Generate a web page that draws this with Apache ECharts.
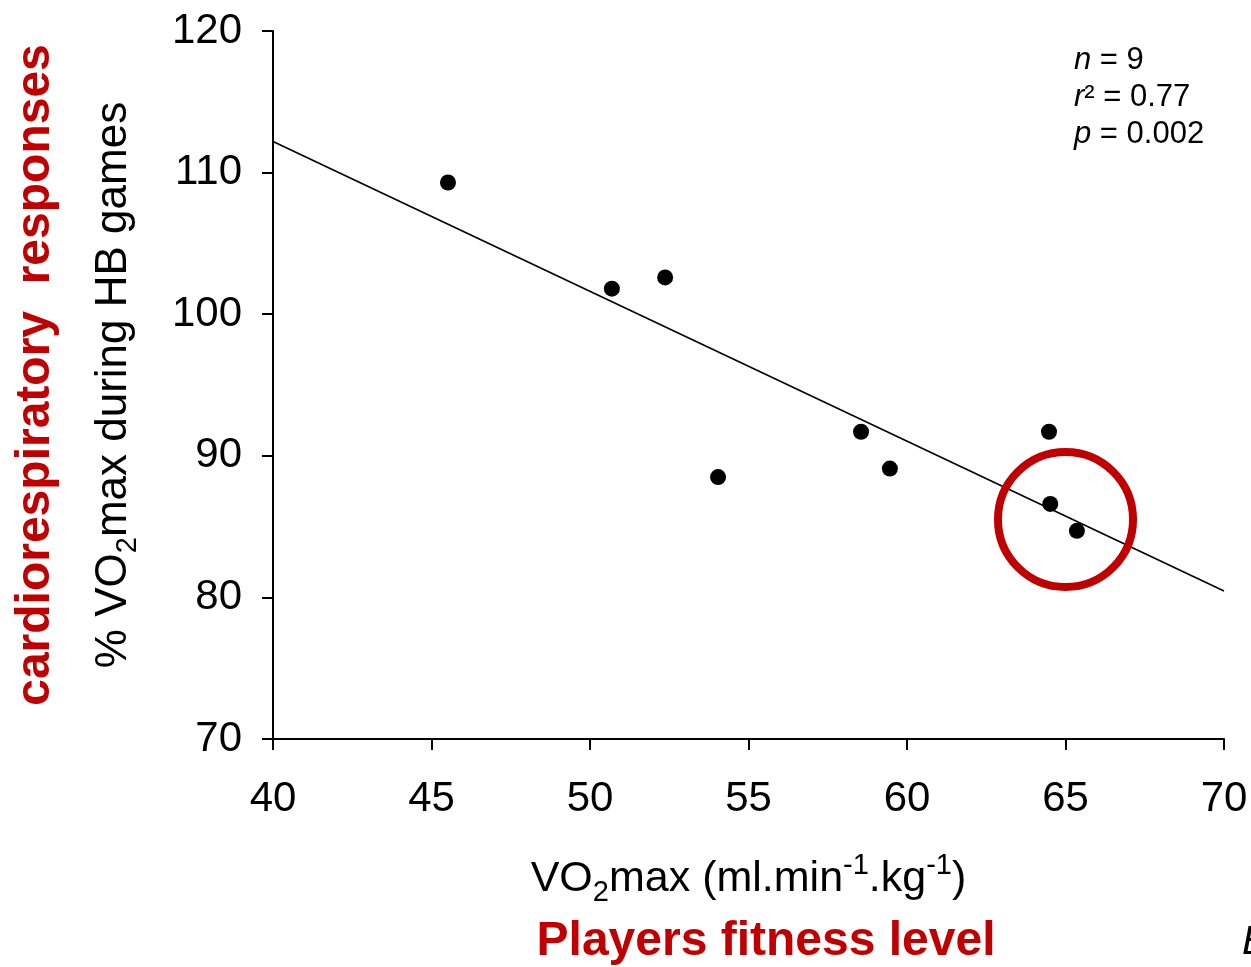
<!DOCTYPE html>
<html>
<head>
<meta charset="utf-8">
<script src="https://cdn.jsdelivr.net/npm/echarts@6/dist/echarts.min.js"></script>
<style>
html,body{margin:0;padding:0;background:#fff;}
#chart{width:1251px;height:967px;}
</style>
</head>
<body>
<div id="chart"></div>
<script>
// Data
var vo2max = [45.52, 50.69, 52.37, 54.04, 58.55, 59.46, 64.48, 64.52, 65.36];
var pctVo2maxHB = [109.3, 101.8, 102.6, 88.5, 91.7, 89.1, 91.7, 86.6, 84.7];
var regressionX = [40, 70];
var regressionY = [112.2, 80.45];
var statsLines = ['n = 9', 'r² = 0.77', 'p = 0.002'];
var highlightCenter = [65.0, 85.5];
var xTicks = [40, 45, 50, 55, 60, 65, 70];
var yTicks = [70, 80, 90, 100, 110, 120];

var FONT = '"Liberation Sans", Arial, sans-serif';
var RED = '#c00000';

var chart = echarts.init(document.getElementById('chart'));

var option = {
  backgroundColor: '#ffffff',
  animation: false,
  grid: { left: 273, right: 27, top: 31, bottom: 228, containLabel: false },
  xAxis: {
    type: 'value',
    min: xTicks[0], max: xTicks[xTicks.length - 1], interval: 5,
    splitLine: { show: false },
    axisLine: { onZero: false, lineStyle: { color: '#000', width: 2 } },
    axisTick: { show: true, length: 11, lineStyle: { color: '#000', width: 2 } },
    axisLabel: { color: '#000', fontFamily: FONT, fontSize: 42, margin: 39 },
    name: '{n|VO}{sub|2}{n|max (ml.min}{sup|-1}{n|.kg}{sup|-1}{n|)}',
    nameLocation: 'middle',
    nameGap: 112,
    nameTextStyle: {
      color: '#000', fontFamily: FONT,
      rich: {
        n: { fontSize: 43, fontFamily: FONT, color: '#000', lineHeight: 56, verticalAlign: 'middle' },
        sub: { fontSize: 29, fontFamily: FONT, color: '#000', lineHeight: 56, verticalAlign: 'bottom' },
        sup: { fontSize: 29, fontFamily: FONT, color: '#000', lineHeight: 56, verticalAlign: 'top' }
      }
    }
  },
  yAxis: {
    type: 'value',
    min: yTicks[0], max: yTicks[yTicks.length - 1], interval: 10,
    splitLine: { show: false },
    axisLine: { onZero: false, lineStyle: { color: '#000', width: 2 } },
    axisTick: { show: true, length: 11, lineStyle: { color: '#000', width: 2 } },
    axisLabel: { color: '#000', fontFamily: FONT, fontSize: 42, margin: 31 },
    name: '{n|% VO}{sub|2}{n|max during HB games}',
    nameLocation: 'middle',
    nameGap: 131,
    nameRotate: 90,
    nameTextStyle: {
      color: '#000', fontFamily: FONT,
      rich: {
        n: { fontSize: 44, fontFamily: FONT, color: '#000', lineHeight: 56, verticalAlign: 'middle' },
        sub: { fontSize: 29, fontFamily: FONT, color: '#000', lineHeight: 56, verticalAlign: 'bottom' }
      }
    }
  },
  series: [
    {
      type: 'line',
      data: regressionX.map(function (x, i) { return [x, regressionY[i]]; }),
      showSymbol: false,
      symbol: 'none',
      lineStyle: { color: '#000', width: 1.6 },
      silent: true,
      z: 2
    },
    {
      type: 'scatter',
      data: vo2max.map(function (x, i) { return [x, pctVo2maxHB[i]]; }),
      symbol: 'circle',
      symbolSize: 16,
      itemStyle: { color: '#000', opacity: 1 },
      z: 3
    }
  ]
};
chart.setOption(option);

function addGraphics() {
  var c = chart.convertToPixel({ gridIndex: 0 }, highlightCenter);
  var c1 = chart.convertToPixel({ gridIndex: 0 }, [highlightCenter[0] + 2.13, highlightCenter[1]]);
  var r = c1[0] - c[0];
  var richStats = {
    i: { fontSize: 31, fontFamily: FONT, fontStyle: 'italic', color: '#000' },
    n: { fontSize: 31, fontFamily: FONT, color: '#000' }
  };
  var statsText = statsLines.map(function (s) {
    return '{i|' + s.charAt(0) + '}{n|' + s.slice(1) + '}';
  }).join('\n');
  chart.setOption({
    graphic: [
      {
        type: 'circle',
        shape: { cx: c[0], cy: c[1], r: r },
        style: { fill: 'none', stroke: RED, lineWidth: 8 },
        z: 10
      },
      {
        type: 'text',
        left: 1074, top: 42,
        style: {
          text: statsText,
          rich: richStats,
          lineHeight: 37,
          fontSize: 31,
          fontFamily: FONT,
          fill: '#000'
        },
        z: 10
      },
      {
        type: 'text',
        x: 36, y: 375,
        rotation: Math.PI / 2,
        style: {
          text: 'cardiorespiratory  responses',
          fontSize: 48, fontWeight: 'bold', fontFamily: FONT,
          fill: RED, align: 'center', verticalAlign: 'middle'
        },
        z: 10
      },
      {
        type: 'text',
        x: 766, y: 942,
        style: {
          text: 'Players fitness level',
          fontSize: 48, fontWeight: 'bold', fontFamily: FONT,
          fill: RED, align: 'center', verticalAlign: 'middle'
        },
        z: 10
      },
      {
        type: 'text',
        x: 1242, y: 943,
        style: {
          text: 'B',
          fontSize: 40, fontStyle: 'italic', fontFamily: FONT,
          fill: '#000', align: 'left', verticalAlign: 'middle'
        },
        z: 10
      }
    ]
  });
}
addGraphics();
</script>
</body>
</html>
